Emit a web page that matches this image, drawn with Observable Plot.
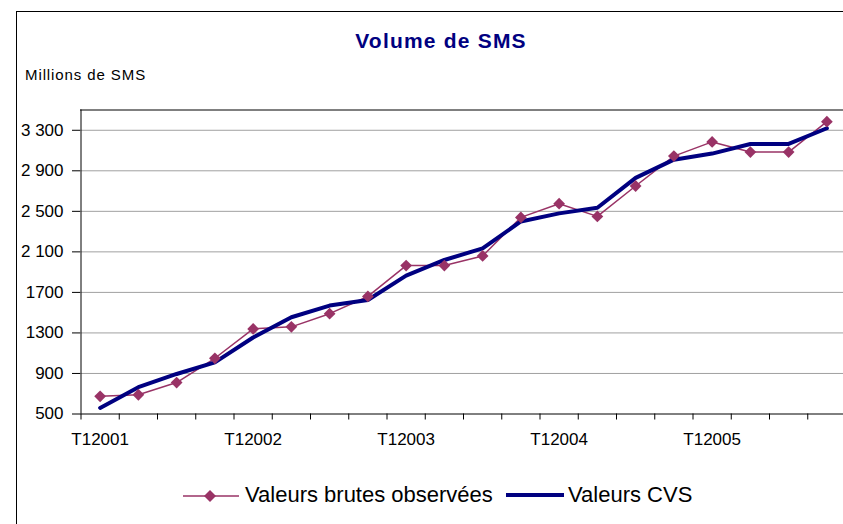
<!DOCTYPE html>
<html><head><meta charset="utf-8">
<script src="https://cdn.jsdelivr.net/npm/d3@7"></script>
<script src="https://cdn.jsdelivr.net/npm/@observablehq/plot@0.6"></script>
<style>
html,body{margin:0;padding:0;background:#fff;overflow:hidden;}
#wrap{position:relative;width:843px;height:524px;overflow:hidden;font-family:"Liberation Sans",Arial,sans-serif;color:#000;}
#border{position:absolute;left:16px;top:11px;width:900px;height:600px;border:1px solid #000;box-sizing:border-box;}
#title{position:absolute;left:441px;top:30px;transform:translateX(-50%);font-size:21px;line-height:1;font-weight:bold;color:#000080;letter-spacing:1.2px;white-space:nowrap;}
#unit{position:absolute;left:25px;top:67px;font-size:15px;line-height:1;letter-spacing:0.9px;white-space:nowrap;}
#chart{position:absolute;left:0;top:0;}
.lg{position:absolute;font-size:22px;line-height:1;white-space:nowrap;}
.sw{position:absolute;}
</style></head><body>
<div id="wrap">
<div id="border"></div>
<div id="title">Volume de SMS</div>
<div id="unit">Millions de SMS</div>
<div id="chart"></div>
<svg class="sw" style="left:181px;top:485px" width="60" height="22"><line x1="2" x2="58" y1="11" y2="11" stroke="#993366" stroke-width="1.5"/><path d="M29,5L35,11L29,17L23,11Z" fill="#993366"/></svg>
<div class="lg" style="left:245px;top:484px">Valeurs brutes observées</div>
<svg class="sw" style="left:504px;top:485px" width="62" height="22"><line x1="2" x2="60" y1="10" y2="10" stroke="#000080" stroke-width="4"/></svg>
<div class="lg" style="left:568px;top:484px">Valeurs CVS</div>
</div>
<script>
const quarters = ["T12001","T22001","T32001","T42001","T12002","T22002","T32002","T42002","T12003","T22003","T32003","T42003","T12004","T22004","T32004","T42004","T12005","T22005","T32005","T42005"];
const raw = [675, 690, 810, 1050, 1340, 1360, 1490, 1660, 1965, 1965, 2060, 2440, 2575, 2450, 2750, 3045, 3185, 3085, 3085, 3385];
const cvs = [560, 765, 895, 1010, 1255, 1455, 1570, 1625, 1865, 2020, 2135, 2400, 2480, 2535, 2830, 3010, 3070, 3165, 3165, 3320];
const yTicks = [500, 900, 1300, 1700, 2100, 2500, 2900, 3300];
const yTickLabels = ["500", "900", "1300", "1700", "2 100", "2 500", "2 900", "3 300"];
const xLabelIdx = [0, 4, 8, 12, 16];

const rawData = raw.map((v, i) => ({i, q: quarters[i], v}));
const cvsData = cvs.map((v, i) => ({i, q: quarters[i], v}));
const boundaries = d3.range(0, quarters.length + 1).map(k => k - 0.5);
const yLab = new Map(yTicks.map((t, k) => [t, yTickLabels[k]]));

const chart = Plot.plot({
  width: 843,
  height: 460,
  marginLeft: 80,
  marginRight: 0,
  marginTop: 109.5,
  marginBottom: 46.5,
  style: {fontFamily: "Liberation Sans, Arial, sans-serif", fontSize: "17px", background: "transparent", color: "#000", overflow: "visible"},
  x: {type: "linear", domain: [-0.5, quarters.length - 0.5], range: [80.5, 845.5], label: null},
  y: {type: "linear", domain: [500, 3500], label: null},
  marks: [
    Plot.ruleY(yTicks.filter(t => t > 500), {stroke: "#a0a0a0", strokeWidth: 1}),
    Plot.ruleY([3500], {stroke: "#000", strokeWidth: 1}),
    Plot.axisY({ticks: yTicks, tickSize: 8, tickPadding: 9, tickFormat: d => yLab.get(d), stroke: "#000", fill: "#000", fontSize: 17, label: null}),
    Plot.axisX({ticks: boundaries, tickSize: 6, tickFormat: () => "", stroke: "#000", label: null}),
    Plot.axisX({ticks: xLabelIdx, tickSize: 0, tickPadding: 19, tickFormat: i => quarters[i], fill: "#000", fontSize: 17, label: null}),
    Plot.ruleX([-0.5], {stroke: "#000", strokeWidth: 1}),
    Plot.ruleY([500], {stroke: "#000", strokeWidth: 1}),
    Plot.line(rawData, {x: "i", y: "v", stroke: "#993366", strokeWidth: 1.5}),
    Plot.line(cvsData, {x: "i", y: "v", stroke: "#000080", strokeWidth: 4, strokeLinejoin: "miter"}),
    Plot.dot(rawData, {x: "i", y: "v", symbol: "diamond2", r: 5.3, fill: "#993366", stroke: "none"})
  ]
});
document.getElementById("chart").appendChild(chart);
</script>
</body></html>
